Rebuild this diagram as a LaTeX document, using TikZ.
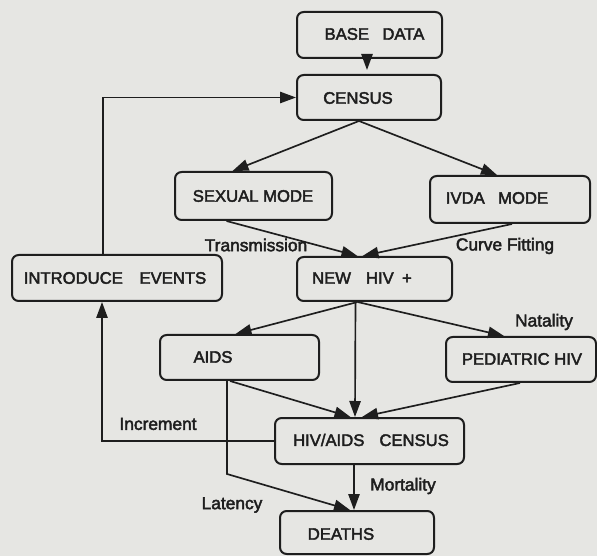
\documentclass[tikz,border=0pt]{standalone}
\usepackage{fontspec}
\setmainfont{Liberation Sans}
\newfontfamily\diafont{Liberation Sans}[FakeBold=2.5]
\usetikzlibrary{arrows.meta,calc}
\definecolor{bgc}{RGB}{230,230,227}
\definecolor{ink}{RGB}{30,30,30}
\begin{document}
\begin{tikzpicture}[x=0.75pt,y=-0.75pt,
  box/.style={draw=ink,line width=1.5pt,rounded corners=5pt,inner sep=0pt},
  btxt/.style={text=ink,font=\diafont\fontsize{12.5}{14}\selectfont,inner sep=0pt},
  ltxt/.style={text=ink,font=\diafont\fontsize{13}{15}\selectfont,inner sep=0pt},
  conn/.style={draw=ink,line width=1.25pt,-{Triangle[length=12pt,width=8.5pt]}},
  plainline/.style={draw=ink,line width=1.25pt}]
\fill[bgc] (0,0) rectangle (597,556);
\useasboundingbox (0,0) rectangle (597,556);

% boxes
\node[box,minimum width=108.75pt,minimum height=34.5pt] (base) at (369.5,35) {};
\node[box,minimum width=108pt,minimum height=33.75pt] (census) at (369,97.5) {};
\node[box,minimum width=117.75pt,minimum height=36pt] (sexual) at (253.5,196) {};
\node[box,minimum width=120pt,minimum height=35.25pt] (ivda) at (510,199.5) {};
\node[box,minimum width=157.5pt,minimum height=34.5pt] (intro) at (117,278) {};
\node[box,minimum width=116.25pt,minimum height=33pt] (newhiv) at (374.5,279) {};
\node[box,minimum width=119.25pt,minimum height=33.75pt] (aids) at (239.5,357.5) {};
\node[box,minimum width=112.5pt,minimum height=33.75pt] (ped) at (521,359.5) {};
\node[box,minimum width=141.75pt,minimum height=34.5pt] (hivcen) at (369.5,441) {};
\node[box,minimum width=115.5pt,minimum height=32.25pt] (deaths) at (357,532.5) {};

% box texts
\node[btxt] (base-t) at (374.5,34) {BASE\hspace{0.8em}DATA};
\node[btxt] (census-t) at (358,98) {CENSUS};
\node[btxt] (sexual-t) at (253,196) {SEXUAL MODE};
\node[btxt] (ivda-t) at (497,198) {IVDA\hspace{0.8em}MODE};
\node[btxt] (intro-t) at (115,278) {INTRODUCE\hspace{1em}EVENTS};
\node[btxt] (newhiv-t) at (362,278) {NEW\hspace{0.9em}HIV\hspace{0.5em}+};
\node[btxt] (aids-t) at (213,357) {AIDS};
\node[btxt] (ped-t) at (522,359) {PEDIATRIC HIV};
\node[btxt] (hivcen-t) at (371,440) {HIV/AIDS\hspace{0.9em}CENSUS};
\node[btxt] (deaths-t) at (341,534) {DEATHS};

% edge labels
\node[ltxt] (l-trans) at (256,245) {Transmission};
\node[ltxt] (l-curve) at (505,246) {Curve Fitting};
\node[ltxt] (l-nat) at (544,322) {Natality};
\node[ltxt] (l-inc) at (158,424) {Increment};
\node[ltxt] (l-lat) at (232,505) {Latency};
\node[ltxt] (l-mort) at (403,486) {Mortality};

% connectors
\draw[conn,shorten >=3pt] ($(base.south)+(-2.5,0)$) -- ($(census.north)+(-2,0)$);
\draw[conn] ($(intro.north)+(-14,0)$) |- (census.west);
\draw[conn] ($(census.south)+(-10,0)$) -- ($(sexual.north)+(-21,0)$);
\draw[conn] ($(census.south)+(-10,0)$) -- ($(ivda.north)+(-13,0)$);
\draw[conn] ($(sexual.south)+(-27,0)$) -- ($(newhiv.north)+(-17,0)$);
\draw[conn] ($(ivda.south)+(2,0)$) -- ($(newhiv.north)+(-12,0)$);
\draw[conn] ($(newhiv.south)+(-17,0)$) -- ($(aids.north)+(-4,0)$);
\draw[conn] ($(newhiv.south)+(-19,0)$) -- ($(hivcen.north)+(-14.5,0)$);
\draw[conn] ($(newhiv.south)+(-17,0)$) -- ($(ped.north)+(-17,0)$);
\draw[conn] ($(aids.south)+(-9.5,0)$) -- ($(hivcen.north)+(-19,0)$);
\draw[conn] ($(ped.south)+(-1,0)$) -- ($(hivcen.north)+(-7.5,0)$);
\draw[conn] (hivcen.west) -| ($(intro.south)+(-15,0)$);
\coordinate (latbend) at ($(aids.south)+(-12.5,93)$);
\draw[conn] ($(aids.south)+(-12.5,0)$) -- (latbend) -- ($(deaths.north)+(-7,0)$);
\draw[conn] ($(hivcen.south)+(-15.5,0)$) -- ($(deaths.north)+(-3,0)$);
\end{tikzpicture}
\end{document}
